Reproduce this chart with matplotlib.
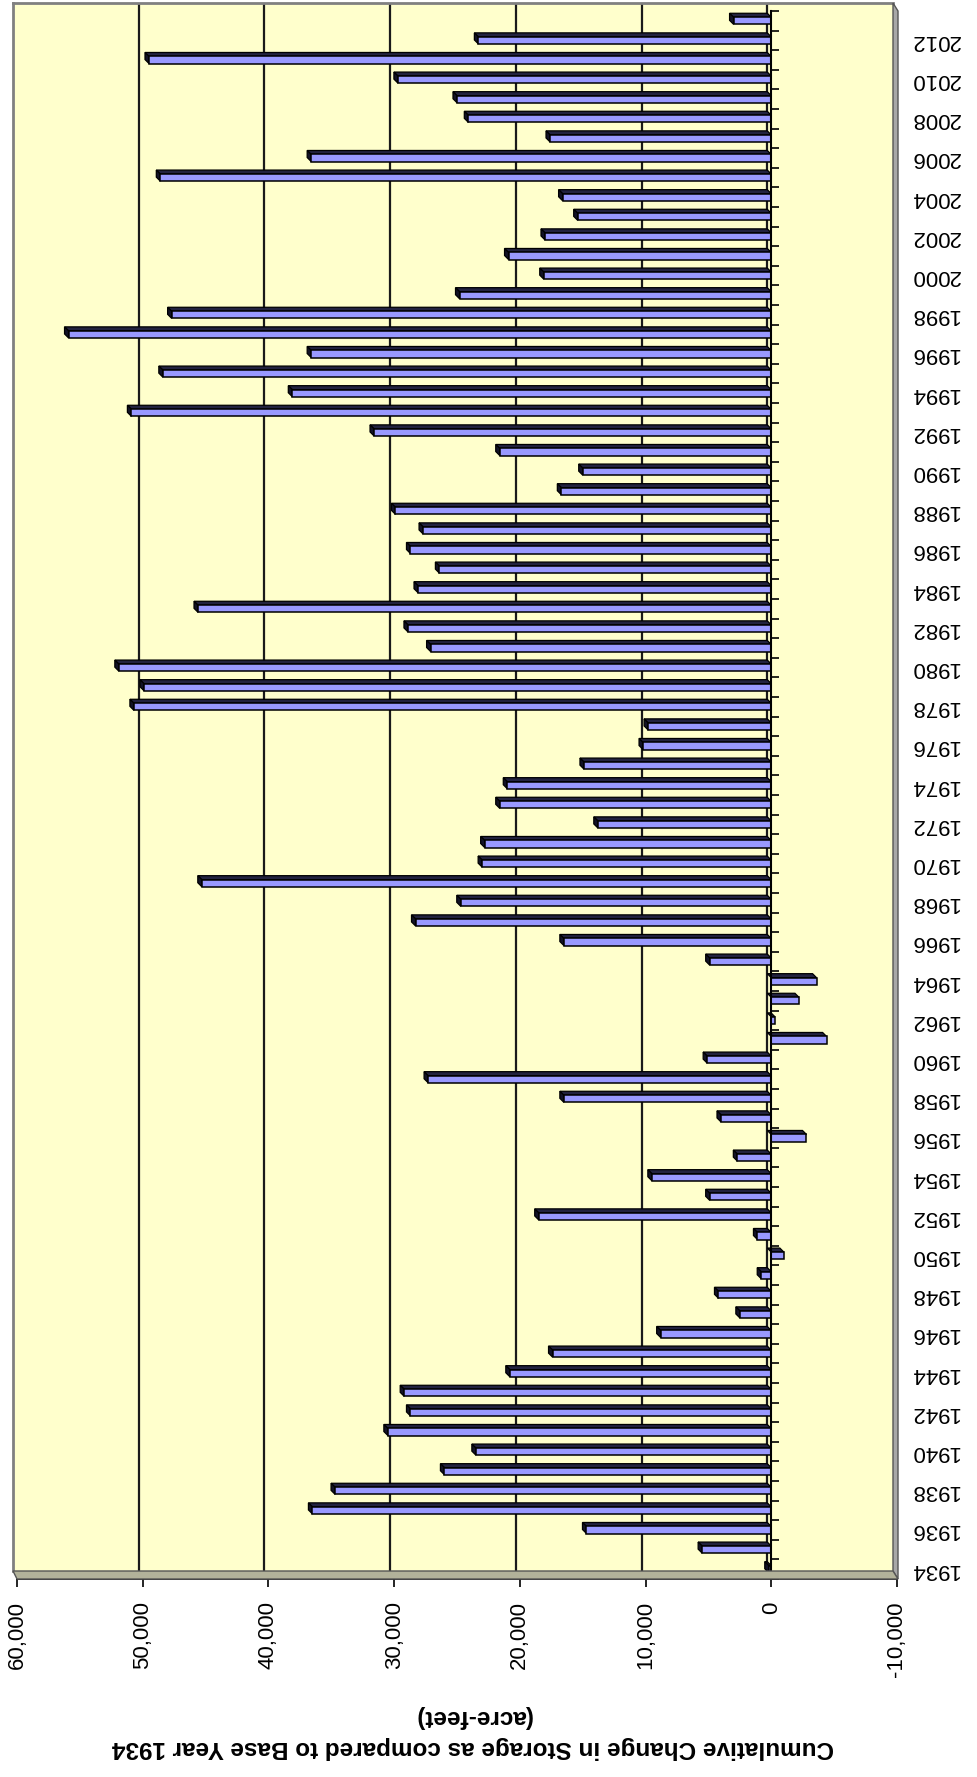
import numpy as np
import matplotlib
matplotlib.use('Agg')
import matplotlib.pyplot as plt
from matplotlib.patches import Polygon

plt.rcParams['font.family'] = ['Liberation Sans', 'DejaVu Sans']

W, H = 977, 1777

years = list(range(1934, 2014))
storage = [
    200, 5500, 14700, 36500, 34700, 26000, 23500, 30500, 28700, 29200,   # 1934-1943
    20800, 17400, 8800, 2500, 4200, 800, -1000, 1100, 18500, 4900,      # 1944-1953
    9500, 2700, -2800, 4000, 16500, 27300, 5100, -4400, -300, -2200,    # 1954-1963
    -3600, 4900, 16500, 28300, 24700, 45300, 23000, 22800, 13800, 21600,  # 1964-1973
    21000, 14900, 10200, 9800, 50700, 49900, 51900, 27100, 28900, 45600,  # 1974-1983
    28100, 26400, 28700, 27700, 29900, 16700, 15000, 21600, 31600, 50900,  # 1984-1993
    38100, 48400, 36600, 55900, 47700, 24800, 18100, 20900, 18000, 15400,  # 1994-2003
    16600, 48600, 36600, 17600, 24100, 25000, 29700, 49500, 23300, 3000,   # 2004-2013
]
value_ticks = [60000, 50000, 40000, 30000, 20000, 10000, 0, -10000]
value_labels = ['60,000', '50,000', '40,000', '30,000', '20,000', '10,000', '0', '-10,000']
axis_title = 'Cumulative Change in Storage as compared to Base Year 1934\n(acre-feet)'

FACE = '#9999ff'
TOP = '#22223f'
CAP = '#121226'
WALL = '#ffffcc'


def box(x0, y0, x1, y1):
    return [x0 / W, 1 - y1 / H, (x1 - x0) / W, (y1 - y0) / H]


def px(x, y):
    return (x / W, 1 - y / H)


fig = plt.figure(figsize=(W / 100, H / 100), dpi=100)

# back wall
wall = fig.add_axes(box(13, 3, 893, 1571))
wall.set_facecolor(WALL)
wall.set_xlim(60000, -10000)
wall.set_ylim(1933.5, 2013.5)
for v in value_ticks[1:-1]:
    wall.axvline(v, color='#1a1a1a', lw=1.6, zorder=1)
wall.set_xticks([])
wall.set_yticks([])
for s in wall.spines.values():
    s.set_visible(False)
for side in ['left', 'top']:
    wall.spines[side].set_visible(True)
    wall.spines[side].set_color('#808080')
    wall.spines[side].set_linewidth(2)

# side strips (3D floor / side wall edges)
right_strip = Polygon([px(893, 3), px(898, 11), px(898, 1579), px(893, 1571)],
                      closed=True, transform=fig.transFigure,
                      facecolor='#a8a8a8', edgecolor='#555555', lw=1)
bottom_strip = Polygon([px(13, 1571), px(893, 1571), px(898, 1579), px(17, 1579)],
                       closed=True, transform=fig.transFigure,
                       facecolor='#b2b29a', edgecolor='#555555', lw=1)
fig.patches.extend([right_strip, bottom_strip])

# front plane: bars, axes, ticks
ax = fig.add_axes(box(17, 11, 897, 1579))
ax.set_facecolor('none')
ax.set_xlim(60000, -10000)
ax.set_ylim(1933.5, 2013.5)

dv = 4 * 70000 / 880
dy = 4 / 19.6
h = 0.36
for yr, v in zip(years, storage):
    yb, yt = yr - h / 2, yr + h / 2
    ax.add_patch(Polygon([(0, yt), (v, yt), (v + dv, yt + dy), (dv, yt + dy)],
                         closed=True, facecolor=TOP, edgecolor='black', lw=0.9, zorder=3))
    if v > 0:
        ax.add_patch(Polygon([(v, yb), (v, yt), (v + dv, yt + dy), (v + dv, yb + dy)],
                             closed=True, facecolor=CAP, edgecolor='black', lw=0.9, zorder=3))
ax.barh(years, storage, height=h, color=FACE, edgecolor='black', lw=1.1, zorder=4)

for side in ['top', 'left']:
    ax.spines[side].set_visible(False)
ax.spines['right'].set_position(('data', 0))
ax.spines['right'].set_linewidth(1.5)
ax.spines['right'].set_zorder(5)
ax.spines['bottom'].set_linewidth(1.2)

ax.set_xticks(value_ticks)
ax.set_xticklabels(value_labels, rotation=90, fontsize=16)
ax.tick_params(axis='x', direction='out', length=6, width=1.2, pad=10)

ax.yaxis.tick_right()
ax.set_yticks(years[::2])
ax.set_yticklabels([str(y) for y in years[::2]], fontsize=16)
ax.set_yticks(np.arange(1933.5, 2014, 1), minor=True)
ax.tick_params(axis='y', which='major', length=0, pad=100, labelrotation=180)
ax.tick_params(axis='y', which='minor', direction='out', length=6, width=1.2)
for lab in ax.get_yticklabels():
    lab.set_va('center')
    lab.set_ha('left')

fig.text(473 / W, 1 - 1732 / H, axis_title, rotation=180, ha='center', va='center',
         multialignment='center', fontsize=17.5, fontweight='bold', linespacing=1.45)

fig.savefig('out.png', dpi=100, facecolor='white')
